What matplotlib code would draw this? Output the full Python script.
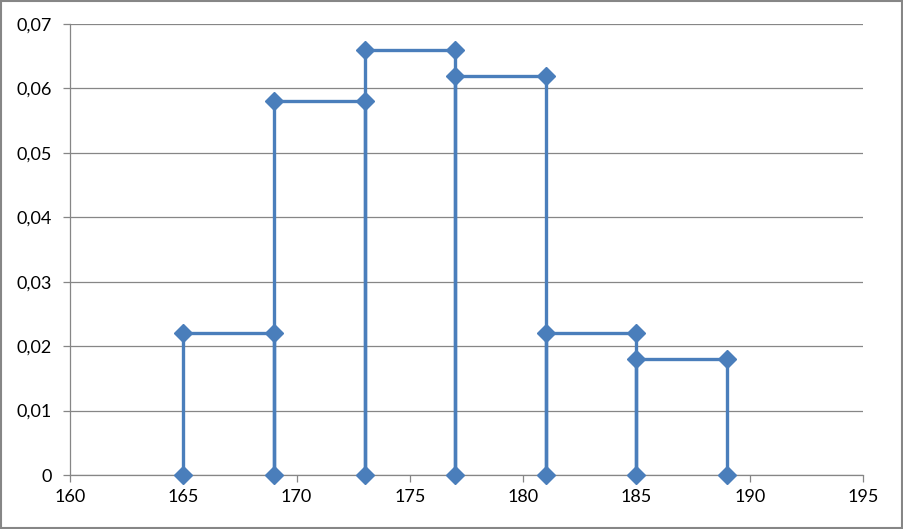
import numpy as np
import matplotlib.pyplot as plt
from matplotlib.patches import Rectangle
from matplotlib.ticker import FuncFormatter, MultipleLocator

# bordes de clase y densidad de cada clase
bordes = [165, 169, 173, 177, 181, 185, 189]
alturas = [0.022, 0.058, 0.066, 0.062, 0.022, 0.018]

# camino del histograma como serie de dispersión con líneas
xs = [bordes[0]]
ys = [0]
for i, h in enumerate(alturas):
    xs += [bordes[i], bordes[i + 1], bordes[i + 1]]
    ys += [h, h, 0]

plt.rcParams['font.family'] = ['Lato', 'DejaVu Sans']

fig = plt.figure(figsize=(9.04, 5.29), dpi=100)
ax = fig.add_axes([70 / 904, 1 - 475 / 529, (863 - 70) / 904, (475 - 24) / 529])

azul = '#4A7EBB'
gris = '#868686'

ax.plot(xs, ys, color=azul, lw=2.4, marker='D', markersize=9, zorder=3, clip_on=False)

ax.set_xlim(160, 195)
ax.set_ylim(0, 0.07)
ax.xaxis.set_major_locator(MultipleLocator(5))
ax.yaxis.set_major_locator(MultipleLocator(0.01))
ax.yaxis.set_major_formatter(FuncFormatter(lambda v, p: '0' if abs(v) < 1e-9 else f'{v:.2f}'.replace('.', ',')))

ax.grid(axis='y', color=gris, lw=0.9)
ax.set_axisbelow(True)
for lado in ['top', 'right']:
    ax.spines[lado].set_visible(False)
for lado in ['left', 'bottom']:
    ax.spines[lado].set_color(gris)
    ax.spines[lado].set_linewidth(0.9)
ax.tick_params(colors=gris, labelcolor='black', labelsize=13, length=5, width=0.9)
ax.tick_params(axis='x', pad=5)
ax.tick_params(axis='y', pad=8)

fig.patches.append(Rectangle((0.001, 0.002), 0.997, 0.996, transform=fig.transFigure,
                             fill=False, edgecolor=gris, lw=1.5))

fig.savefig('out.png', dpi=100)
